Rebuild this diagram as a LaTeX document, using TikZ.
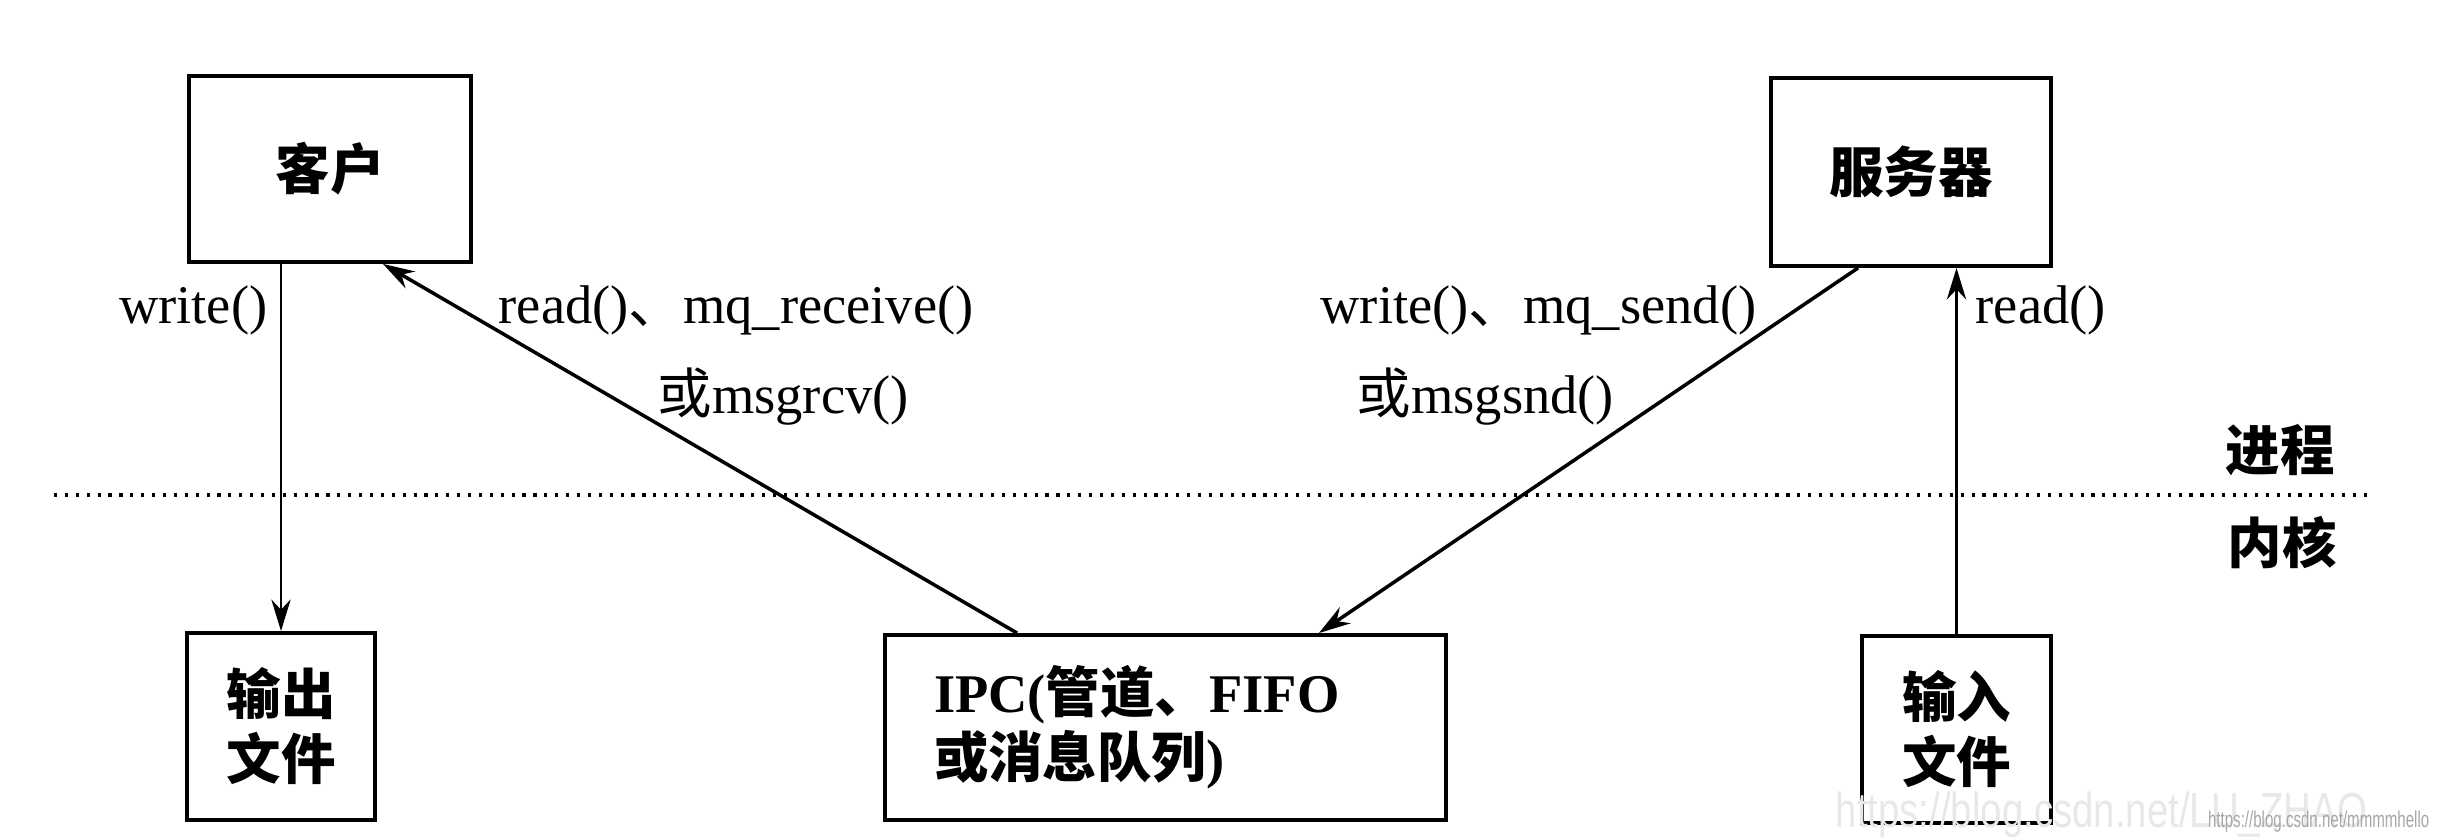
\documentclass[tikz,border=0pt]{standalone}
\usepackage{fontspec}
\setmainfont{Liberation Serif}
\setsansfont{Liberation Sans}
\newfontfamily\cjk{Noto Sans CJK SC}
\usetikzlibrary{arrows.meta}

\newcommand{\zh}[1]{{\cjk #1}}

\tikzset{
  box/.style={draw, line width=1.1pt, inner sep=0pt, align=center,
    font=\fontsize{15.5}{18.5}\selectfont\bfseries},
  lbl/.style={inner sep=0pt, font=\fontsize{15.5}{18.5}\selectfont},
  vcall/.style={-{Stealth[length=9pt,width=5.5pt]}, line width=0.6pt},
  dcall/.style={-{Stealth[length=9pt,width=5.5pt]}, line width=1pt},
  sepline/.style={line width=0.9pt, dash pattern=on 0.9pt off 2.2pt},
}

\begin{document}
\begin{tikzpicture}
    \useasboundingbox (0,0) rectangle (24.41,8.40);

    % Processus
    \node[box, minimum width=2.82cm, minimum height=1.86cm] (client) at (3.30,6.71) {\zh{客户}};
    \node[box, minimum width=2.80cm, minimum height=1.88cm] (server) at (19.11,6.68) {\zh{服务器}};

    % Noyau
    \node[box, minimum width=1.88cm, minimum height=1.87cm] (outfile) at (2.81,1.135) {\zh{输出}\\\zh{文件}};
    \node[box, minimum width=5.61cm, minimum height=1.85cm, text width=4.63cm, inner xsep=0.49cm, align=left]
        (ipc) at (11.655,1.125) {IPC(\zh{管道、}FIFO\\\zh{或消息队列})};
    \node[box, minimum width=1.89cm, minimum height=1.87cm] (infile) at (19.565,1.105) {\zh{输入}\\\zh{文件}};

    % Separation processus / noyau
    \coordinate (sepl) at (0.54,3.45);
    \coordinate (sepr) at (23.71,3.45);
    \draw[sepline] (sepl) -- (sepr);
    \node[lbl, font=\fontsize{15.5}{18.5}\selectfont\bfseries] (proc) at (22.80,3.90) {\zh{进程}};
    \node[lbl, font=\fontsize{15.5}{18.5}\selectfont\bfseries] (kern) at (22.82,2.97) {\zh{内核}};

    % Appels
    \draw[vcall] (client.south -| outfile.north) -- (outfile.north);
    \draw[vcall] (infile.north) -- (infile.north |- server.south);
    \draw[dcall] ([xshift=1.34cm]ipc.north west) -- ([xshift=-0.90cm]client.south east);
    \draw[dcall] ([xshift=0.89cm]server.south west) -- ([xshift=-1.29cm]ipc.north east);

    \node[lbl, anchor=east] (wlbl) at (2.68,5.30) {write()};
    \node[lbl, anchor=west] (rcvlbl) at (4.98,5.30) {read()\zh{、}mq\_receive()};
    \node[lbl, anchor=west] (rcvlblb) at (6.57,4.43) {\zh{或}msgrcv()};
    \node[lbl, anchor=east] (sndlbl) at (17.57,5.30) {write()\zh{、}mq\_send()};
    \node[lbl, anchor=west] (sndlblb) at (13.56,4.43) {\zh{或}msgsnd()};
    \node[lbl, anchor=west] (rlbl) at (19.75,5.30) {read()};

    % Filigrane
    \node[inner sep=0pt, anchor=south west, gray!18, font=\sffamily\fontsize{14}{14}\selectfont]
        (wmark) at (18.35,0.02) {\scalebox{0.78}[1]{https://blog.csdn.net/LU\_ZHAO}};
    \node[inner sep=0pt, anchor=east, gray!70, font=\sffamily\fontsize{6.5}{6.5}\selectfont]
        (wmarkb) at (24.30,0.18) {\scalebox{0.66}[1]{https://blog.csdn.net/mmmmhello}};
\end{tikzpicture}
\end{document}
